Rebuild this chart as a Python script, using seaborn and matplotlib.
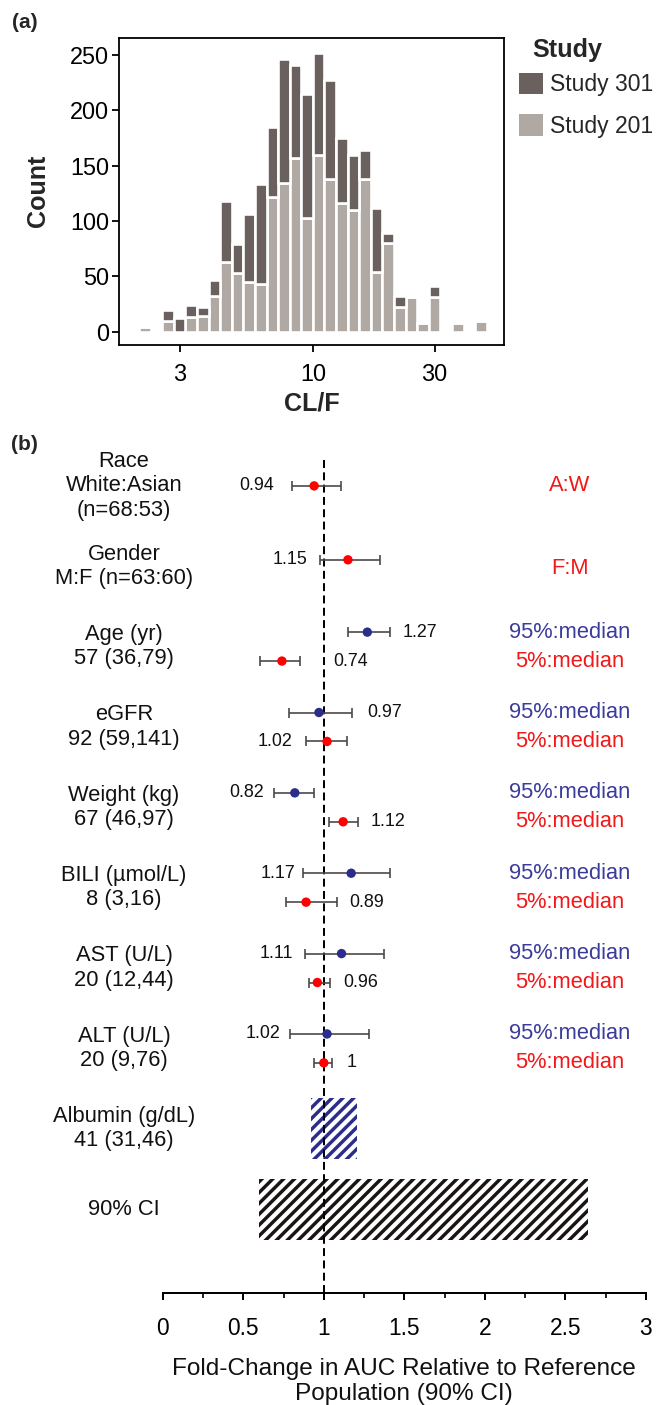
import numpy as np
import pandas as pd
import matplotlib
matplotlib.use("Agg")
import matplotlib.pyplot as plt
from matplotlib.ticker import FixedLocator, MultipleLocator, NullLocator
import seaborn as sns

# ---------------- Panel (a): CL/F histogram by study ----------------
bins_per_decade = 22          # log10 bin grid of the histogram
ref_bin_center = 3.0          # CL/F at the centre of bin #3
n_bins = 30
count_study201 = [4, 0, 10, 0, 13, 14, 32, 63, 53, 45, 43, 122, 134, 157, 103,
                  160, 138, 116, 110, 138, 54, 80, 22, 31, 8, 31, 0, 8, 0, 10]
count_study301 = [0, 0, 10, 12, 11, 8, 15, 55, 26, 61, 90, 63, 112, 84, 112,
                  92, 89, 59, 50, 26, 58, 9, 10, 0, 0, 10, 0, 0, 0, 0]
studies = ["Study 301", "Study 201"]
hist_xticks = [3, 10, 30]
hist_yticks = [0, 50, 100, 150, 200, 250]

# ---------------- Panel (b): forest plot ----------------
cov_labels = ["Race\nWhite:Asian\n(n=68:53)", "Gender\nM:F (n=63:60)",
              "Age (yr)\n57 (36,79)", "eGFR\n92 (59,141)",
              "Weight (kg)\n67 (46,97)", "BILI (\u00b5mol/L)\n8 (3,16)",
              "AST (U/L)\n20 (12,44)", "ALT (U/L)\n20 (9,76)",
              "Albumin (g/dL)\n41 (31,46)", "90% CI"]
row_group = [0, 1, 2, 2, 3, 3, 4, 4, 5, 5, 6, 6, 7, 7]
row_kind = ["single", "single", "95%", "5%", "95%", "5%", "95%", "5%",
            "95%", "5%", "95%", "5%", "95%", "5%"]
row_est = [0.94, 1.15, 1.27, 0.74, 0.97, 1.02, 0.82, 1.12, 1.17, 0.89,
           1.11, 0.96, 1.02, 1.00]
row_lo = [0.80, 0.976, 1.15, 0.606, 0.786, 0.89, 0.691, 1.034, 0.869, 0.765,
          0.883, 0.908, 0.79, 0.941]
row_hi = [1.107, 1.349, 1.411, 0.854, 1.177, 1.146, 0.941, 1.212, 1.411, 1.082,
          1.376, 1.04, 1.281, 1.049]
single_ratio_labels = ["A:W", "F:M"]
box_group = [8, 9]
box_lo = [0.922, 0.60]
box_hi = [1.204, 2.64]
fold_ticks = [0, 0.5, 1, 1.5, 2, 2.5, 3]

# ---------------- layout / style (not data) ----------------
label_side = ["left", "left", "right", "right", "right", "left", "left",
              "right", "left", "right", "left", "right", "left", "right"]
label_gap_pt = [9.5, 7, 6.8, 18, 8.3, 7.8, 5.5, 7.2, 4, 6.8, 6.8, 7.2, 5.2, 8.3]
single_shift = {0: 0.0, 1: -0.08}
sub_offset = 0.18
NAVY = "#2b2d8c"
RED = "#ff0000"
TXT_BLUE = "#3b3b9c"
TXT_RED = "#f01818"
ERR = "#4b4545"
C301 = "#6a605d"
C201 = "#b0a9a3"

sns.set_theme(style="ticks")
plt.rcParams["font.family"] = ["Liberation Sans", "DejaVu Sans"]
plt.rcParams["hatch.linewidth"] = 1.9

DPI = 130
fig = plt.figure(figsize=(656 / DPI, 1405 / DPI), dpi=DPI)

# ======================= Panel (a) =======================
ax1 = fig.add_axes([119.3 / 656, 1 - 345 / 1405, 385 / 656, 307.3 / 1405])
log_c = np.log10(ref_bin_center) + (np.array(range(n_bins)) - 3) / bins_per_decade
bin_centers = 10 ** log_c
edge_lo = log_c[0] - 0.5 / bins_per_decade
edge_hi = log_c[-1] + 0.5 / bins_per_decade
hist_df = pd.DataFrame({
    "CL/F": np.tile(bin_centers, 2),
    "Count": count_study301 + count_study201,
    "Study": ["Study 301"] * n_bins + ["Study 201"] * n_bins,
})
sns.histplot(data=hist_df, x="CL/F", weights="Count", hue="Study",
             hue_order=studies, multiple="stack", log_scale=True,
             bins=n_bins, binrange=(edge_lo, edge_hi),
             palette={"Study 301": C301, "Study 201": C201}, alpha=1,
             edgecolor="white", linewidth=1.45, ax=ax1)
ax1.set_xlim(1.74, 56.3)
ax1.set_ylim(-12, 265.6)
ax1.xaxis.set_major_locator(FixedLocator(hist_xticks))
ax1.xaxis.set_minor_locator(NullLocator())
ax1.set_xticklabels([str(t) for t in hist_xticks])
ax1.set_yticks(hist_yticks)
for s in ax1.spines.values():
    s.set_visible(True)
    s.set_linewidth(1.0)
    s.set_color("black")
ax1.tick_params(axis="both", direction="out", length=3.9, width=1.0,
                labelsize=13, colors="black")
ax1.tick_params(axis="x", pad=6)
ax1.tick_params(axis="y", pad=1.8)
ax1.set_xlabel("CL/F", fontsize=13.9, fontweight="bold", labelpad=3)
ax1.set_ylabel("Count", fontsize=13.9, fontweight="bold", labelpad=11)

sns.move_legend(ax1, "upper left", bbox_to_anchor=(1.015, 0.916),
                frameon=False, title=None, fontsize=12.7,
                handlelength=1.05, handleheight=1.05,
                handletextpad=0.3, labelspacing=0.8, borderaxespad=0)
leg = ax1.get_legend()
for h in leg.legend_handles:
    h.set_edgecolor("none")
fig.text(532 / 656, 1 - 50 / 1405, "Study", fontsize=14, fontweight="bold",
         ha="left", va="center")

fig.text(25 / 656, 1 - 23 / 1405, "(a)", fontsize=11.6, fontweight="bold",
         ha="center", va="center")
fig.text(24 / 656, 1 - 445 / 1405, "(b)", fontsize=11.6, fontweight="bold",
         ha="center", va="center")

# ======================= Panel (b) =======================
ax2 = fig.add_axes([162.7 / 656, 1 - 1292.7 / 1405, 483.3 / 656, 834.7 / 1405])

ypos = []
for g, k in zip(row_group, row_kind):
    if k == "95%":
        ypos.append(g - sub_offset)
    elif k == "5%":
        ypos.append(g + sub_offset)
    else:
        ypos.append(g + single_shift.get(g, 0.0))
ypos = np.array(ypos)
est = np.array(row_est)
lo = np.array(row_lo)
hi = np.array(row_hi)

# hatched boxes
box_cols = [NAVY, "#1a1414"]
for g, l, h, c in zip(box_group, box_lo, box_hi, box_cols):
    ax2.barh(g, h - l, left=l, height=0.76, color="white", edgecolor=c,
             hatch="////", linewidth=0, zorder=1)

ax2.axvline(1, color="black", lw=1.1, ls=(0, (4, 2.2)), zorder=3)

ax2.errorbar(est, ypos, xerr=[est - lo, hi - est], fmt="none", ecolor=ERR,
             elinewidth=0.9, capsize=2.8, capthick=0.9, zorder=4)

pts = pd.DataFrame({"ratio": est, "y": ypos,
                    "kind": ["upper" if k == "95%" else "lower" for k in row_kind]})
sns.scatterplot(data=pts, x="ratio", y="y", hue="kind",
                palette={"upper": NAVY, "lower": RED}, s=27, linewidth=0,
                legend=False, ax=ax2, zorder=5)

# value labels
for e, l, h, y, side, gap in zip(est, lo, hi, ypos, label_side, label_gap_pt):
    txt = f"{e:g}"
    if side == "left":
        ax2.annotate(txt, xy=(l, y), xytext=(-gap, 0), textcoords="offset points",
                     ha="right", va="center", fontsize=9.9, color="#111111")
    else:
        ax2.annotate(txt, xy=(h, y), xytext=(gap, 0), textcoords="offset points",
                     ha="left", va="center", fontsize=9.9, color="#111111")

# covariate labels on the left
for g, lab in enumerate(cov_labels):
    ax2.text(-0.24, g, lab, ha="center", va="center", fontsize=12.1,
             linespacing=1.2, clip_on=False, color="#111111")

# ratio labels on the right
xr = 2.528
for g, lab in enumerate(single_ratio_labels):
    ax2.text(xr, g + (0.03 if g == 1 else 0.0), lab, ha="center",
             va="center", fontsize=12.1, color=TXT_RED)
for g in sorted(set(gg for gg, k in zip(row_group, row_kind) if k == "95%")):
    ax2.text(xr, g - sub_offset, "95%:median", ha="center", va="center",
             fontsize=12.1, color=TXT_BLUE)
    ax2.text(xr, g + sub_offset, "5%:median", ha="center", va="center",
             fontsize=12.1, color=TXT_RED)

ax2.set_xlim(0, 3)
ax2.set_ylim(10.04, -0.347)
ax2.set_yticks([])
ax2.set_ylabel("")
for side in ["left", "top", "right"]:
    ax2.spines[side].set_visible(False)
ax2.spines["bottom"].set_linewidth(1.1)
ax2.spines["bottom"].set_color("black")
ax2.spines["bottom"].set_bounds(0, 3)
ax2.set_xticks(fold_ticks)
ax2.set_xticklabels([f"{t:g}" for t in fold_ticks])
ax2.xaxis.set_minor_locator(MultipleLocator(0.25))
ax2.tick_params(axis="x", which="major", direction="out", length=3.9,
                width=1.1, labelsize=12.6, pad=9.5, colors="black")
ax2.tick_params(axis="x", which="minor", direction="out", length=2.8,
                width=1.1, bottom=True)
ax2.set_xlabel("Fold-Change in AUC Relative to Reference\nPopulation (90% CI)",
               fontsize=13.5, labelpad=10, color="#111111")

fig.savefig("out.png", dpi=DPI)
